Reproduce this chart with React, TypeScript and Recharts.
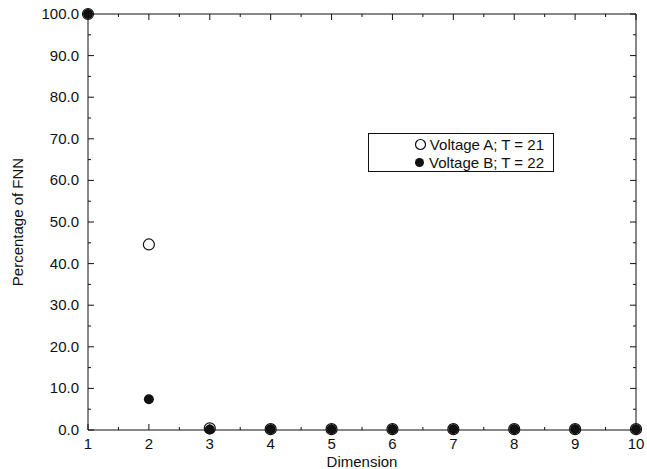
import { ScatterChart, Scatter, XAxis, YAxis, Label } from 'recharts';

const dimensions = [1, 2, 3, 4, 5, 6, 7, 8, 9, 10];
const voltageA = [100, 44.6, 0.4, 0.2, 0.2, 0.2, 0.2, 0.2, 0.2, 0.2];
const voltageB = [100, 7.4, 0.1, 0.2, 0.2, 0.2, 0.2, 0.2, 0.2, 0.2];

const xTicks = [1, 1.5, 2, 2.5, 3, 3.5, 4, 4.5, 5, 5.5, 6, 6.5, 7, 7.5, 8, 8.5, 9, 9.5, 10];
const yTicks = [0, 5, 10, 15, 20, 25, 30, 35, 40, 45, 50, 55, 60, 65, 70, 75, 80, 85, 90, 95, 100];

const seriesA = dimensions.map((d, i) => ({ x: d, y: voltageA[i] }));
const seriesB = dimensions.map((d, i) => ({ x: d, y: voltageB[i] }));

const INK = '#111';
const FONT = '"Liberation Sans", Arial, sans-serif';
const FS = 15;

const isMajorX = (v: number) => Number.isInteger(v);
const isMajorY = (v: number) => v % 10 === 0;

function BottomTick({ x, y, payload }: any) {
  const major = isMajorX(payload.value);
  return (
    <g>
      <line x1={x} y1={y} x2={x} y2={y - (major ? 6 : 3)} stroke={INK} strokeWidth={1} />
      {major && (
        <text x={x} y={y + 19} textAnchor="middle" fontSize={FS} fill={INK} fontFamily={FONT}>
          {payload.value}
        </text>
      )}
    </g>
  );
}

function TopTick({ x, y, payload }: any) {
  const major = isMajorX(payload.value);
  return <line x1={x} y1={y} x2={x} y2={y + (major ? 6 : 3)} stroke={INK} strokeWidth={1} />;
}

function LeftTick({ x, y, payload }: any) {
  const major = isMajorY(payload.value);
  return (
    <g>
      <line x1={x} y1={y} x2={x + (major ? 6 : 3)} y2={y} stroke={INK} strokeWidth={1} />
      {major && (
        <text x={x - 9} y={y + 5} textAnchor="end" fontSize={FS} fill={INK} fontFamily={FONT}>
          {payload.value.toFixed(1)}
        </text>
      )}
    </g>
  );
}

function RightTick({ x, y, payload }: any) {
  const major = isMajorY(payload.value);
  return <line x1={x} y1={y} x2={x - (major ? 6 : 3)} y2={y} stroke={INK} strokeWidth={1} />;
}

const OpenDot = (p: any) => (
  <circle cx={p.cx} cy={p.cy} r={5.5} fill="#fff" stroke={INK} strokeWidth={1.2} />
);
const FilledDot = (p: any) => <circle cx={p.cx} cy={p.cy} r={5} fill={INK} />;
const NoDot = () => <g />;

function LegendBox() {
  const row = { display: 'flex', alignItems: 'center', height: 18, justifyContent: 'flex-end' } as const;
  return (
    <div
      style={{
        position: 'absolute',
        left: 368,
        top: 133,
        width: 186,
        height: 39,
        border: `1px solid ${INK}`,
        background: '#fff',
        boxSizing: 'border-box',
        fontFamily: FONT,
        fontSize: FS,
        color: INK,
        padding: '1px 9px 0 0',
      }}
    >
      <div style={row}>
        <svg width={13} height={13} style={{ marginRight: 3 }}>
          <circle cx={6.5} cy={6.5} r={5} fill="#fff" stroke={INK} strokeWidth={1.2} />
        </svg>
        Voltage A; T = 21
      </div>
      <div style={row}>
        <svg width={13} height={13} style={{ marginRight: 3 }}>
          <circle cx={6.5} cy={6.5} r={4.5} fill={INK} />
        </svg>
        Voltage B; T = 22
      </div>
    </div>
  );
}

export default function App() {
  return (
    <div style={{ position: 'absolute', left: 0, top: 0, width: 647, height: 469, background: '#fff' }}>
      <ScatterChart width={647} height={469} margin={{ top: 13, right: 10, bottom: 0, left: 0 }}>
        <XAxis
          xAxisId="bottom"
          dataKey="x"
          type="number"
          domain={[1, 10]}
          ticks={xTicks}
          interval={0}
          height={39}
          tickSize={0}
          tickMargin={0}
          tickLine={false}
          axisLine={{ stroke: INK }}
          tick={<BottomTick />}
        >
          <Label
            content={(props: any) => (
              <text
                x={props.viewBox.x + props.viewBox.width / 2}
                y={467}
                textAnchor="middle"
                fontSize={FS}
                fill={INK}
                fontFamily={FONT}
              >
                Dimension
              </text>
            )}
          />
        </XAxis>
        <XAxis
          xAxisId="top"
          orientation="top"
          dataKey="x"
          type="number"
          domain={[1, 10]}
          ticks={xTicks}
          interval={0}
          height={1}
          tickSize={0}
          tickMargin={0}
          tickLine={false}
          axisLine={{ stroke: INK }}
          tick={<TopTick />}
        />
        <YAxis
          yAxisId="left"
          dataKey="y"
          type="number"
          domain={[0, 100]}
          ticks={yTicks}
          interval={0}
          width={88}
          tickSize={0}
          tickMargin={0}
          tickLine={false}
          axisLine={{ stroke: INK }}
          tick={<LeftTick />}
        >
          <Label
            content={(props: any) => {
              const cy = props.viewBox.y + props.viewBox.height / 2;
              return (
                <text
                  x={23}
                  y={cy}
                  transform={`rotate(-90 23 ${cy})`}
                  textAnchor="middle"
                  fontSize={FS}
                  fill={INK}
                  fontFamily={FONT}
                >
                  Percentage of FNN
                </text>
              );
            }}
          />
        </YAxis>
        <YAxis
          yAxisId="right"
          orientation="right"
          dataKey="y"
          type="number"
          domain={[0, 100]}
          ticks={yTicks}
          interval={0}
          width={1}
          tickSize={0}
          tickMargin={0}
          tickLine={false}
          axisLine={{ stroke: INK }}
          tick={<RightTick />}
        />
        <Scatter
          name="frame"
          data={seriesB}
          xAxisId="top"
          yAxisId="right"
          shape={NoDot}
          legendType="none"
          isAnimationActive={false}
        />
        <Scatter
          name="Voltage A; T = 21"
          data={seriesA}
          xAxisId="bottom"
          yAxisId="left"
          shape={OpenDot}
          isAnimationActive={false}
        />
        <Scatter
          name="Voltage B; T = 22"
          data={seriesB}
          xAxisId="bottom"
          yAxisId="left"
          shape={FilledDot}
          isAnimationActive={false}
        />
      </ScatterChart>
      <LegendBox />
    </div>
  );
}
